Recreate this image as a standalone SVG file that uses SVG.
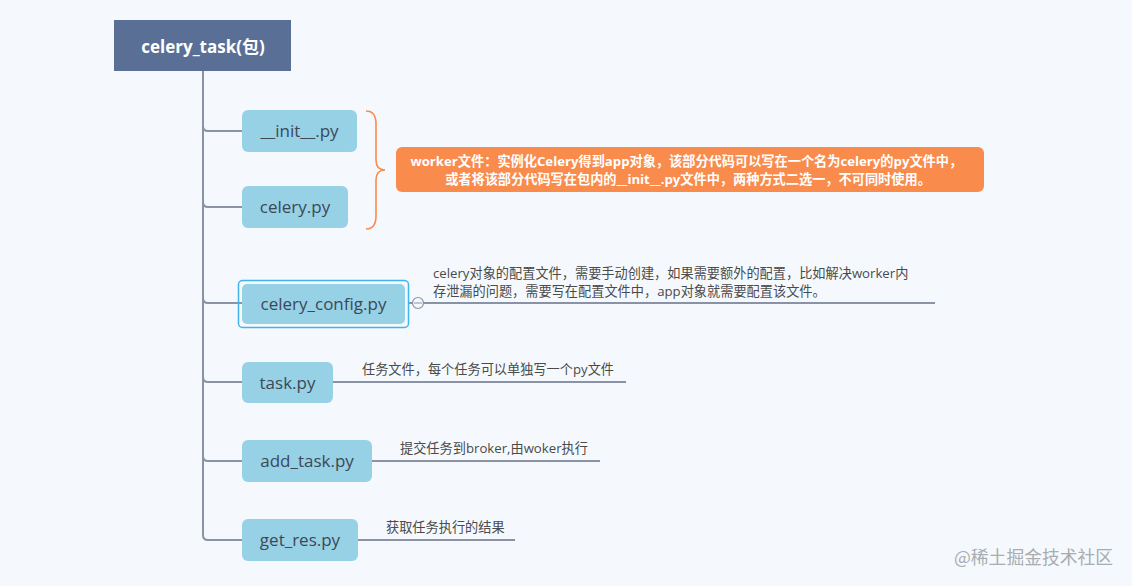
<svg xmlns="http://www.w3.org/2000/svg" width="1132" height="586" viewBox="0 0 1132 586">
<style>
.bg{fill:#f5f9fd}
.node rect{fill:#97d1e6}
.node text{font-family:"Open Sans","Noto Sans","Noto Sans CJK SC",sans-serif;font-size:17px;fill:#3c4857;text-anchor:middle}
.ln{fill:none;stroke:#8a93a5;stroke-width:2}
.note{font-family:"Open Sans","Noto Sans CJK SC",sans-serif;font-size:13.2px;fill:#4a4a4a}
</style>
<rect class="bg" width="1132" height="586"/>
<g id="connectors">
<path class="ln" d="M203 71 V535 Q203 540 208 540 H242"/>
<path class="ln" d="M203 126 Q203 131 208 131 H242"/>
<path class="ln" d="M203 202 Q203 207 208 207 H242"/>
<path class="ln" d="M203 298 Q203 303 208 303 H242"/>
<path class="ln" d="M203 377 Q203 382 208 382 H242"/>
<path class="ln" d="M203 456 Q203 461 208 461 H242"/>
<path class="ln" d="M408 303 H935"/>
<path class="ln" d="M333 382 H626"/>
<path class="ln" d="M372 461 H600"/>
<path class="ln" d="M358 540 H515"/>
<circle cx="418" cy="303" r="5.5" fill="#f5f9fd" stroke="#8a93a5" stroke-width="1.2"/>
<line x1="414" y1="303" x2="422" y2="303" stroke="#8a93a5" stroke-width="1"/>
<path d="M366 111 Q376 111 376 124 V160 Q376 170 385 170 Q376 170 376 180 V216 Q376 229 366 229" fill="none" stroke="#f98c4c" stroke-width="1.6"/>
</g>
<g id="root">
<rect x="114" y="20" width="177" height="51" fill="#5a6f96"/>
<text x="203" y="53" font-family="Open Sans,Noto Sans CJK SC,sans-serif" font-size="17" font-weight="bold" fill="#ffffff" text-anchor="middle">celery_task(包)</text>
</g>
<g id="init" class="node">
<rect x="242" y="110" width="115" height="42" rx="6"/>
<text x="299.5" y="137">__init__.py</text>
</g>
<g id="celery" class="node">
<rect x="242" y="186" width="106" height="42" rx="6"/>
<text x="295" y="213">celery.py</text>
</g>
<g id="celery_config" class="node">
<rect x="238.5" y="280.5" width="170" height="47" rx="4" stroke="#41b4ec" stroke-width="1.5" style="fill:none"/>
<rect x="242" y="284" width="163" height="40" rx="5"/>
<text x="323.5" y="310">celery_config.py</text>
</g>
<g id="task" class="node">
<rect x="242" y="362" width="91" height="41" rx="6"/>
<text x="287.5" y="389">task.py</text>
</g>
<g id="add_task" class="node">
<rect x="242" y="440" width="130" height="42" rx="6"/>
<text x="307" y="467">add_task.py</text>
</g>
<g id="get_res" class="node">
<rect x="242" y="519" width="116" height="42" rx="6"/>
<text x="300" y="546">get_res.py</text>
</g>
<g id="worker_note">
<rect x="396" y="147" width="588" height="45" rx="6" fill="#f98c4c"/>
<text font-family="Open Sans,Noto Sans CJK SC,sans-serif" font-size="13.2" font-weight="bold" fill="#ffffff" text-anchor="middle">
<tspan x="688" y="166">worker文件：实例化Celery得到app对象，该部分代码可以写在一个名为celery的py文件中，</tspan>
<tspan x="688" y="184">或者将该部分代码写在包内的__init__.py文件中，两种方式二选一，不可同时使用。</tspan>
</text>
</g>
<g id="config_note">
<text class="note"><tspan x="433" y="278">celery对象的配置文件，需要手动创建，如果需要额外的配置，比如解决worker内</tspan><tspan x="433" y="296">存泄漏的问题，需要写在配置文件中，app对象就需要配置该文件。</tspan></text>
</g>
<g id="task_note"><text class="note" x="362" y="374">任务文件，每个任务可以单独写一个py文件</text></g>
<g id="add_task_note"><text class="note" x="400" y="453">提交任务到broker,由woker执行</text></g>
<g id="get_res_note"><text class="note" x="386" y="532">获取任务执行的结果</text></g>
<text x="954" y="564" font-family="Noto Sans CJK SC,sans-serif" font-size="17.8" fill="#a9acb0">@稀土掘金技术社区</text>
</svg>
